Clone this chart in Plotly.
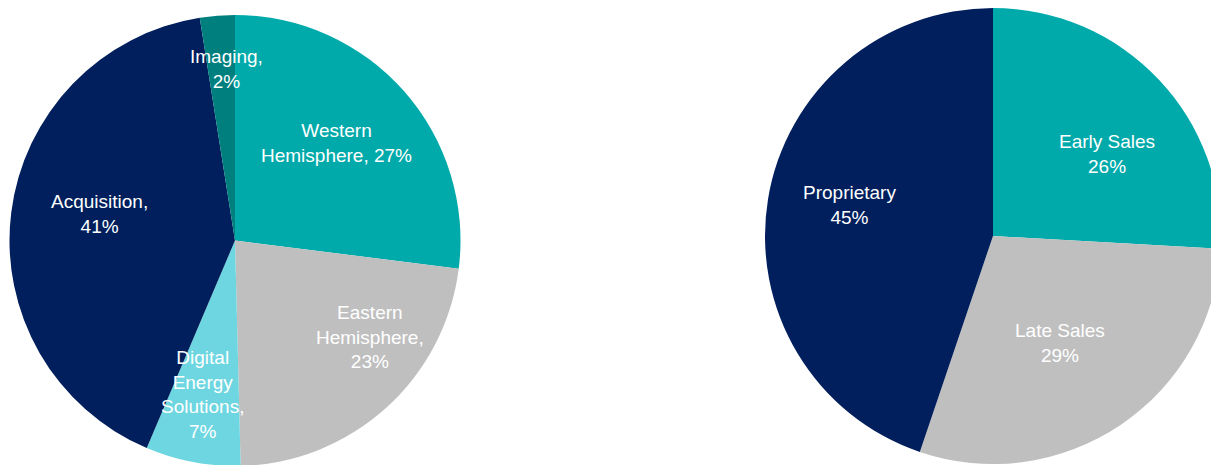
import plotly.graph_objects as go

# ---- data ----
left_labels = ["Western Hemisphere", "Eastern Hemisphere", "Digital Energy Solutions", "Acquisition", "Imaging"]
left_values = [27.0, 22.6, 6.8, 41.1, 2.5]
left_text = ["Western<br>Hemisphere, 27%", "Eastern<br>Hemisphere,<br>23%",
             "Digital<br>Energy<br>Solutions,<br>7%", "Acquisition,<br>41%", "Imaging,<br>2%"]
left_colors = ["#00AAAA", "#BFBFBF", "#6DD6E0", "#001F5C", "#007F7F"]

right_labels = ["Early Sales", "Late Sales", "Proprietary"]
right_values = [25.9, 29.3, 44.8]
right_text = ["Early Sales<br>26%", "Late Sales<br>29%", "Proprietary<br>45%"]
right_colors = ["#00AAAA", "#BFBFBF", "#001F5C"]

# ---- layout geometry (pixels) ----
W, H = 1232, 485
FONT = dict(family="Liberation Sans, Arial, sans-serif", size=19, color="white")


def dom(cx, cy, r):
    return dict(x=[(cx - r) / W, (cx + r) / W], y=[(H - cy - r) / H, (H - cy + r) / H])


fig = go.Figure()
fig.add_trace(go.Pie(labels=left_labels, values=left_values, sort=False, direction="clockwise",
                     rotation=0, marker=dict(colors=left_colors, line=dict(width=0)),
                     textinfo="none", hoverinfo="label+percent", domain=dom(235, 240.5, 225.5),
                     showlegend=False))
fig.add_trace(go.Pie(labels=right_labels, values=right_values, sort=False, direction="clockwise",
                     rotation=0, marker=dict(colors=right_colors, line=dict(width=0)),
                     textinfo="none", hoverinfo="label+percent", domain=dom(993, 236, 228),
                     showlegend=False))

# label centres (pixels from top-left)
left_pos = [(336, 143), (370, 337), (202, 394), (99, 214), (226, 69)]
right_pos = [(1107, 154), (1060, 343), (849, 205)]

for txt, (px, py) in list(zip(left_text, left_pos)) + list(zip(right_text, right_pos)):
    fig.add_annotation(text=txt, x=px / W, y=(H - py) / H, xref="paper", yref="paper",
                       xanchor="center", yanchor="middle", align="center",
                       showarrow=False, font=FONT)

fig.update_layout(width=W, height=H, margin=dict(l=0, r=0, t=0, b=0),
                  paper_bgcolor="white", plot_bgcolor="white")

fig.write_html("out.html", post_script="document.body.style.overflow='hidden';document.documentElement.style.overflow='hidden';")
